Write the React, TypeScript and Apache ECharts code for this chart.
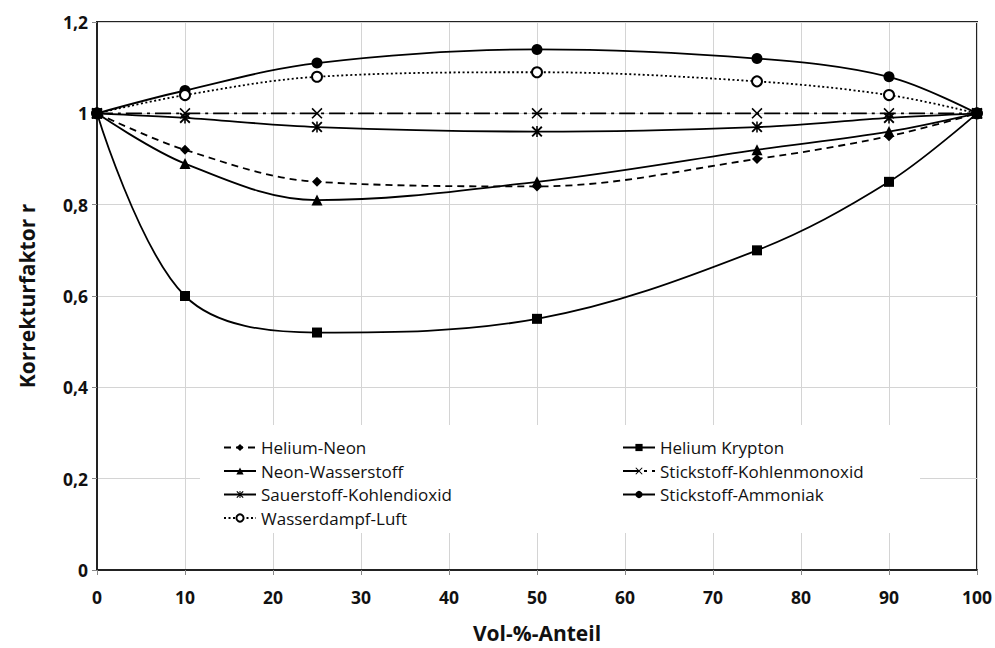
import React, { useEffect, useRef } from "react";
import * as echarts from "echarts";

const xValues = [0, 10, 25, 50, 75, 90, 100];
const heliumNeon = [1, 0.92, 0.85, 0.84, 0.9, 0.95, 1];
const heliumKrypton = [1, 0.6, 0.52, 0.55, 0.7, 0.85, 1];
const neonWasserstoff = [1, 0.89, 0.81, 0.85, 0.92, 0.96, 1];
const stickstoffKohlenmonoxid = [1, 1, 1, 1, 1, 1, 1];
const sauerstoffKohlendioxid = [1, 0.99, 0.97, 0.96, 0.97, 0.99, 1];
const stickstoffAmmoniak = [1, 1.05, 1.11, 1.14, 1.12, 1.08, 1];
const wasserdampfLuft = [1, 1.04, 1.08, 1.09, 1.07, 1.04, 1];

const legendLeft = ["Helium-Neon", "Neon-Wasserstoff", "Sauerstoff-Kohlendioxid", "Wasserdampf-Luft"];
const legendRight = ["Helium Krypton", "Stickstoff-Kohlenmonoxid", "Stickstoff-Ammoniak"];

const CROSS = "path://M0,1 L1,0 L5,4 L9,0 L10,1 L6,5 L10,9 L9,10 L5,6 L1,10 L0,9 L4,5 Z";
const STAR =
  "path://M0,1.2 L1.2,0 L5,3.8 L8.8,0 L10,1.2 L6.2,5 L10,8.8 L8.8,10 L5,6.2 L1.2,10 L0,8.8 L3.8,5 Z M4.3,0 L5.7,0 L5.7,10 L4.3,10 Z";

const FONT = "'Open Sans', 'Noto Sans', sans-serif";

function pairs(ys: number[]) {
  return xValues.map((x, i) => [x, ys[i]]);
}

export default function App() {
  const ref = useRef<HTMLDivElement>(null);
  useEffect(() => {
    if (!ref.current) return;
    const chart = echarts.init(ref.current, undefined, { renderer: "svg" });
    const base = (name: string, ys: number[], symbol: string, size: number, lineType: any, extra: any = {}) => ({
      name,
      type: "line",
      data: pairs(ys),
      smooth: 0.35,
      symbol,
      symbolSize: size,
      showAllSymbol: true,
      lineStyle: { color: "#000", width: 1.8, type: lineType },
      itemStyle: { color: "#000", borderColor: "#000", borderWidth: 0 },
      z: 5,
      ...extra,
    });
    chart.setOption({
      animation: false,
      backgroundColor: "#fff",
      grid: {
        left: 97,
        right: 17,
        top: 22,
        bottom: 73,
        show: true,
        borderColor: "#222",
        borderWidth: 2,
        backgroundColor: "transparent",
      },
      xAxis: {
        type: "value",
        min: 0,
        max: 100,
        interval: 10,
        name: "Vol-%-Anteil",
        nameLocation: "middle",
        nameGap: 52,
        nameTextStyle: { fontFamily: FONT, fontWeight: "bold", fontSize: 21, color: "#111" },
        axisLine: { show: true, lineStyle: { color: "#222", width: 2 } },
        axisTick: { show: true, inside: false, length: 5, lineStyle: { color: "#888" } },
        axisLabel: { fontFamily: FONT, fontWeight: "bold", fontSize: 17.5, color: "#111", margin: 18 },
        splitLine: { show: true, lineStyle: { color: "#d4d4d4", width: 1 } },
      },
      yAxis: {
        type: "value",
        min: 0,
        max: 1.2,
        interval: 0.2,
        name: "Korrekturfaktor r",
        nameLocation: "middle",
        nameGap: 60,
        nameRotate: 90,
        nameTextStyle: { fontFamily: FONT, fontWeight: "bold", fontSize: 21, color: "#111" },
        axisLine: { show: true, lineStyle: { color: "#222", width: 2 } },
        axisTick: { show: true, inside: false, length: 5, lineStyle: { color: "#888" } },
        axisLabel: {
          fontFamily: FONT,
          fontWeight: "bold",
          fontSize: 17.5,
          color: "#111",
          margin: 9,
          formatter: (v: number) => String(Math.round(v * 10) / 10).replace(".", ","),
        },
        splitLine: { show: true, lineStyle: { color: "#d4d4d4", width: 1 } },
      },
      graphic: [
        {
          type: "rect",
          z: 3,
          shape: { x: 200, y: 425, width: 720, height: 108 },
          style: { fill: "#fff" },
        },
      ],
      legend: [
        {
          data: legendLeft,
          orient: "vertical",
          left: 218,
          top: 434,
          itemGap: 6.5,
          itemWidth: 32,
          itemHeight: 9,
          z: 6,
          textStyle: { fontFamily: FONT, fontSize: 17, color: "#111", lineHeight: 17 },
        },
        {
          data: legendRight,
          orient: "vertical",
          left: 617,
          top: 434,
          itemGap: 6.5,
          itemWidth: 32,
          itemHeight: 9,
          z: 6,
          textStyle: { fontFamily: FONT, fontSize: 17, color: "#111", lineHeight: 17 },
        },
      ],
      series: [
        base("Helium-Neon", heliumNeon, "diamond", 10, [7, 5]),
        base("Helium Krypton", heliumKrypton, "rect", 10, "solid", { z: 7 }),
        base("Neon-Wasserstoff", neonWasserstoff, "triangle", 11, "solid"),
        base("Stickstoff-Kohlenmonoxid", stickstoffKohlenmonoxid, CROSS, 11, [16, 5, 3, 5]),
        base("Sauerstoff-Kohlendioxid", sauerstoffKohlendioxid, STAR, 11, "solid"),
        base("Stickstoff-Ammoniak", stickstoffAmmoniak, "circle", 11, "solid"),
        base("Wasserdampf-Luft", wasserdampfLuft, "emptyCircle", 10, [2, 2.5], {
          itemStyle: { color: "#000", borderColor: "#000", borderWidth: 1.4 },
        }),
      ],
    });
    return () => chart.dispose();
  }, []);
  return (
    <div
      ref={ref}
      style={{ position: "fixed", left: 0, top: 0, width: 995, height: 648, background: "#fff" }}
    />
  );
}
